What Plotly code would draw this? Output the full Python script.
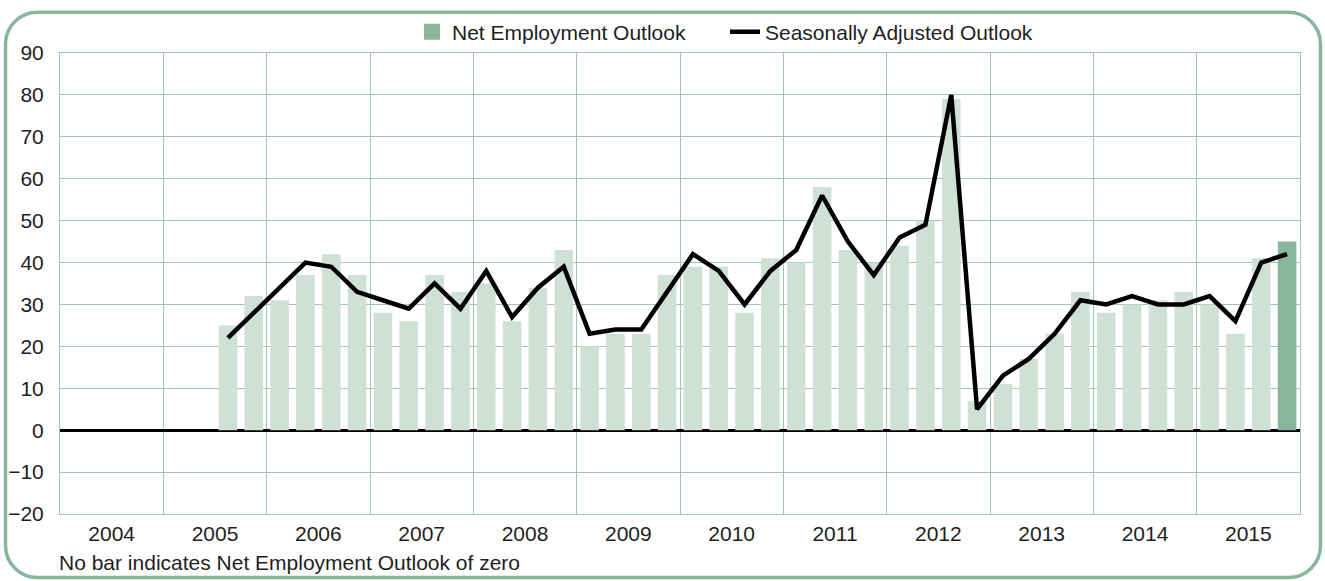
import plotly.graph_objects as go

# ---- data ----
start_year = 2005
start_quarter = 3
year_labels = ["2004", "2005", "2006", "2007", "2008", "2009", "2010",
               "2011", "2012", "2013", "2014", "2015"]
net_outlook = [25, 32,
               31, 37, 42, 37,
               28, 26, 37, 33,
               35, 26, 34, 43,
               20, 23, 23, 37,
               39, 39, 28, 41,
               40, 58, 43, 40,
               44, 50, 79, 7,
               11, 17, 23, 33,
               28, 30, 31, 33,
               30, 23, 41, 45]
seasonal_outlook = [22, 28,
                    34, 40, 39, 33,
                    31, 29, 35, 29,
                    38, 27, 34, 39,
                    23, 24, 24, 33,
                    42, 38, 30, 38,
                    43, 56, 45, 37,
                    46, 49, 80, 5,
                    13, 17, 23, 31,
                    30, 32, 30, 30,
                    32, 26, 40, 42]
y_ticks = [-20, -10, 0, 10, 20, 30, 40, 50, 60, 70, 80, 90]
footnote = "No bar indicates Net Employment Outlook of zero"

# ---- positions of quarters on a numeric year axis ----
xq = []
for i in range(len(net_outlook)):
    qi = (start_quarter - 1) + i
    y = start_year + qi // 4
    q = qi % 4 + 1
    xq.append(y + (q - 0.5) / 4)

first_year = int(year_labels[0])
last_year = int(year_labels[-1]) + 1

LIGHT = "#cfe0d6"
DARK = "#88b59b"
GRID = "#9fc8b0"
FONT = "Liberation Sans"
TXT = "#1e1e1e"
FS = 21

W, H = 1325, 581
ML, MR, MT, MB = 60, 25, 50, 67
PW, PH = W - ML - MR, H - MT - MB


def pxx(x):
    return (x - ML) / PW


def pxy(y):
    return (H - MB - y) / PH


fig = go.Figure()
# legend-only entry for the bars (square symbol)
fig.add_trace(go.Scatter(x=[None], y=[None], mode="markers",
                         marker=dict(symbol="square", size=21, color=DARK),
                         name="Net Employment Outlook"))
fig.add_trace(go.Bar(x=xq[:-1], y=net_outlook[:-1], width=0.18,
                     marker=dict(color=LIGHT, line=dict(width=0)),
                     showlegend=False, name="Net Employment Outlook"))
# latest quarter drawn darker
fig.add_trace(go.Bar(x=xq[-1:], y=net_outlook[-1:], width=0.18,
                     marker=dict(color=DARK, line=dict(width=0)),
                     showlegend=False, name="Net Employment Outlook"))
fig.add_trace(go.Scatter(x=xq, y=seasonal_outlook, mode="lines",
                         line=dict(color="black", width=4.5),
                         name="Seasonally Adjusted Outlook"))

# rounded frame
L, R, T, B, r = 5.5, 1320.5, 9, 578, 32
k = 0.5523 * r
pts = [
    ("M", [(L, T + r)]),
    ("C", [(L, T + r - k), (L + r - k, T), (L + r, T)]),
    ("L", [(R - r, T)]),
    ("C", [(R - r + k, T), (R, T + r - k), (R, T + r)]),
    ("L", [(R, B - r)]),
    ("C", [(R, B - r + k), (R - r + k, B), (R - r, B)]),
    ("L", [(L + r, B)]),
    ("C", [(L + r - k, B), (L, B - r + k), (L, B - r)]),
]
path = ""
for cmd, ps in pts:
    path += cmd + " ".join(f"{pxx(a):.5f},{pxy(b):.5f}" for a, b in ps) + " "
path += "Z"

fig.update_layout(
    width=W, height=H, autosize=False,
    margin=dict(l=ML, r=MR, t=MT, b=MB, pad=0),
    paper_bgcolor="white", plot_bgcolor="white",
    barmode="overlay",
    font=dict(family=FONT, size=FS, color=TXT),
    showlegend=True,
    legend=dict(orientation="h", x=pxx(412), xanchor="left",
                y=pxy(29), yanchor="middle", traceorder="normal",
                font=dict(size=FS, color=TXT), itemwidth=30,
                itemsizing="trace", entrywidth=268,
                bgcolor="rgba(0,0,0,0)"),
    shapes=[dict(type="path", path=path, xref="paper", yref="paper",
                 line=dict(color=DARK, width=3.5), layer="below")],
    annotations=[dict(text=footnote, x=0, xref="paper", xanchor="left",
                      y=pxy(563), yref="paper", yanchor="middle",
                      xshift=-3,
                      showarrow=False, font=dict(size=FS, color=TXT))],
)

fig.update_xaxes(
    range=[first_year, last_year],
    tickmode="array",
    tickvals=[int(s) + 0.5 for s in year_labels],
    ticktext=year_labels,
    ticks="", showgrid=False, zeroline=False,
    ticklabelstandoff=1, automargin=False,
    minor=dict(tickmode="array",
               tickvals=list(range(first_year, last_year + 1)),
               showgrid=True, gridcolor=GRID, gridwidth=1, ticks=""),
    showline=True, mirror=True, linecolor=GRID, linewidth=1,
    tickfont=dict(size=FS, color=TXT, family=FONT),
    fixedrange=True,
)
fig.update_yaxes(
    range=[y_ticks[0], y_ticks[-1]],
    tickmode="array", tickvals=y_ticks,
    ticks="", showgrid=True, gridcolor=GRID, gridwidth=1,
    zeroline=True, zerolinecolor="black", zerolinewidth=2.5,
    showline=True, mirror=True, linecolor=GRID, linewidth=1,
    ticklabelstandoff=11, automargin=False,
    tickfont=dict(size=FS, color=TXT, family=FONT),
    fixedrange=True,
)

fig.write_html("out.html")
